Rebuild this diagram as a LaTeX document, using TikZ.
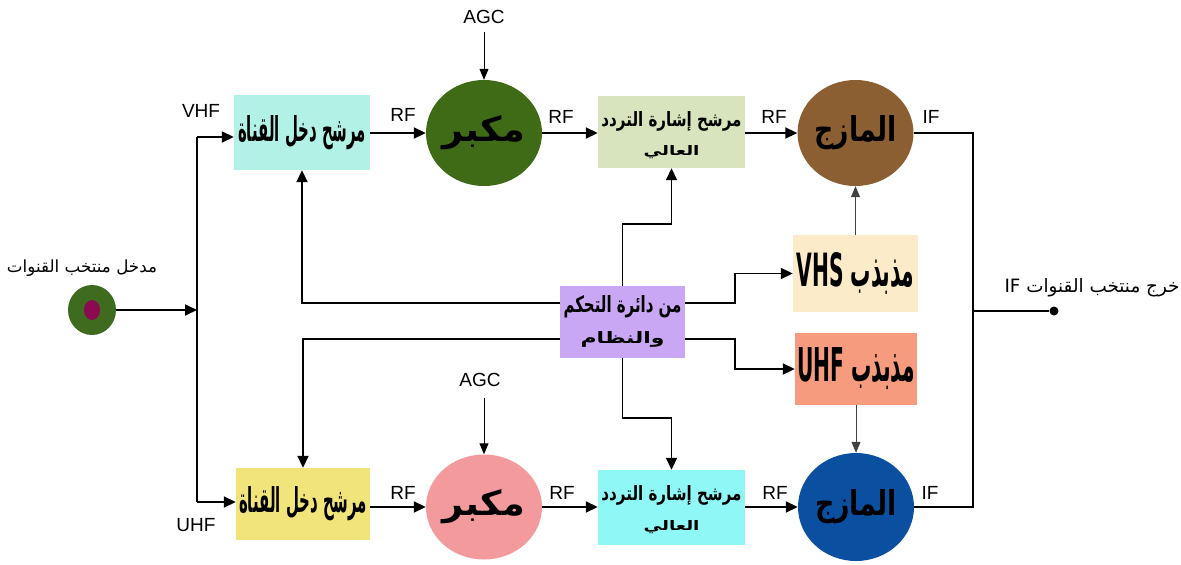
\documentclass[tikz,border=0pt]{standalone}
\usepackage{fontspec}
\setmainfont{Liberation Sans}
\newfontfamily\arabicfont[Script=Arabic]{DejaVu Sans}
\TeXXeTstate=1
\usetikzlibrary{arrows.meta,shapes.geometric,calc}

\definecolor{inGreen}{HTML}{3E6B1D}
\definecolor{inDot}{HTML}{8B0A50}
\definecolor{cfTop}{HTML}{B2F2E6}
\definecolor{ampTop}{HTML}{3F6A16}
\definecolor{hfTop}{HTML}{D7E4BD}
\definecolor{mixTop}{HTML}{8C5F33}
\definecolor{vhsCol}{HTML}{FBEBC9}
\definecolor{uhfCol}{HTML}{F79B7F}
\definecolor{ctrlCol}{HTML}{C9A7F4}
\definecolor{cfBot}{HTML}{F0E47A}
\definecolor{ampBot}{HTML}{F29A9C}
\definecolor{hfBot}{HTML}{8FF7F5}
\definecolor{mixBot}{HTML}{0B4FA1}

% bold Arabic text squeezed into a given width and height
\newcommand{\fitar}[3]{\resizebox{#1}{#2}{\arabicfont\bfseries #3}}
\newcommand{\fitplain}[2]{\resizebox{#1}{!}{\arabicfont #2}}

\tikzset{
  blk/.style={rectangle, draw=none, inner sep=0pt, align=center},
  oval/.style={ellipse, draw=none, inner sep=0pt},
  wire/.style={line width=1.8pt, draw=black},
  arr/.style={wire, -{Triangle[length=12pt,width=11pt]}},
  thin arr/.style={line width=1pt, draw=black!75, -{Triangle[length=11pt,width=9pt]}},
  lbl/.style={font=\fontsize{19}{19}\selectfont, inner sep=0pt}
}

\begin{document}
\begin{tikzpicture}[x=1pt,y=-1pt]
\useasboundingbox (0,0) rectangle (1181,565);

% input connector
\node[oval, fill=inGreen, minimum width=48pt, minimum height=50pt] (in) at (92,310) {};
\node[oval, fill=inDot, minimum width=16pt, minimum height=20pt] (indot) at (92,310) {};
\node[inner sep=0pt] (inlbl) at (82,268) {\fitplain{150pt}{\beginR مدخل منتخب القنوات\endR}};

% upper (VHF) chain
\node[blk, fill=cfTop, minimum width=136pt, minimum height=75pt] (cf1) at (302,132.5) {\fitar{128pt}{26pt}{\beginR مرشح دخل القناة\endR}};
\node[oval, fill=ampTop, minimum width=86pt, minimum height=106pt] (amp1) at (484,133) {\fitar{82pt}{26pt}{\beginR مكبر\endR}};
\node[blk, fill=hfTop, minimum width=147pt, minimum height=72pt] (hf1) at (671.5,132) {};
\node (hf1a) at (671.5,121) {\fitar{140pt}{15pt}{\beginR مرشح إشارة التردد\endR}};
\node (hf1b) at (671.5,152) {\fitar{56pt}{10pt}{\beginR العالي\endR}};
\node[oval, fill=mixTop, minimum width=95pt, minimum height=106pt] (mix1) at (855.5,133) {\fitar{82pt}{26pt}{\beginR المازج\endR}};

% local oscillators
\node[blk, fill=vhsCol, minimum width=125pt, minimum height=77pt] (vhs) at (855.5,273.5) {\fitar{118pt}{34pt}{\beginR مذبذب \beginL VHS\endL\endR}};
\node[blk, fill=uhfCol, minimum width=122pt, minimum height=72pt] (uhf) at (856,369) {\fitar{118pt}{34pt}{\beginR مذبذب \beginL UHF\endL\endR}};

% control
\node[blk, fill=ctrlCol, minimum width=125pt, minimum height=72pt] (ctrl) at (622.5,322) {};
\node (ctrla) at (622.5,307) {\fitar{118pt}{17pt}{\beginR من دائرة التحكم\endR}};
\node (ctrlb) at (622.5,339) {\fitar{84pt}{12pt}{\beginR والنظام\endR}};

% lower (UHF) chain
\node[blk, fill=cfBot, minimum width=134pt, minimum height=72pt] (cf2) at (303,504) {\fitar{128pt}{26pt}{\beginR مرشح دخل القناة\endR}};
\node[oval, fill=ampBot, minimum width=87pt, minimum height=105pt] (amp2) at (484,507) {\fitar{82pt}{26pt}{\beginR مكبر\endR}};
\node[blk, fill=hfBot, minimum width=147pt, minimum height=75pt] (hf2) at (671.5,507.5) {};
\node (hf2a) at (671.5,495) {\fitar{140pt}{15pt}{\beginR مرشح إشارة التردد\endR}};
\node (hf2b) at (671.5,527) {\fitar{56pt}{10pt}{\beginR العالي\endR}};
\node[oval, fill=mixBot, minimum width=95pt, minimum height=108pt] (mix2) at (856,507) {\fitar{82pt}{26pt}{\beginR المازج\endR}};

% input bus
\coordinate (busm) at (197,310);
\coordinate (bust) at (197,137);
\coordinate (busb) at (197,502);
\draw[arr] (in.east) -- (busm);
\draw[wire] (bust) -- (busb);
\draw[arr] (bust) -- (bust -| cf1.west);
\draw[arr] (busb) -- (busb -| cf2.west);
\node[lbl] (vhflbl) at (201,111) {VHF};
\node[lbl] (uhflbl) at (196,525) {UHF};

% signal path, upper
\draw[arr] (amp1.west -| cf1.east) -- (amp1.west);
\draw[arr] (amp1.east) -- (amp1.east -| hf1.west);
\draw[arr] (mix1.west -| hf1.east) -- (mix1.west);
\node[lbl] (rf1) at (403,115) {RF};
\node[lbl] (rf2) at (561,117) {RF};
\node[lbl] (rf3) at (774,117) {RF};
\node[lbl] (if1) at (931,117) {IF};

% signal path, lower
\draw[arr] (amp2.west -| cf2.east) -- (amp2.west);
\draw[arr] (amp2.east) -- (amp2.east -| hf2.west);
\draw[arr] (mix2.west -| hf2.east) -- (mix2.west);
\node[lbl] (rf4) at (403,493) {RF};
\node[lbl] (rf5) at (562,493) {RF};
\node[lbl] (rf6) at (775,493) {RF};
\node[lbl] (if2) at (930,493) {IF};

% AGC inputs
\node[lbl] (agc1) at (484,17) {AGC};
\node[lbl] (agc2) at (480,380) {AGC};
\coordinate (agc1s) at (484,32);
\coordinate (agc2s) at (484,398);
\draw[thin arr, draw=black] (agc1s) -- (amp1.north);
\draw[thin arr, draw=black] (agc2s) -- (amp2.north);

% oscillators to mixers
\draw[thin arr] (vhs.north) -- (mix1.south);
\draw[thin arr] (uhf.south) -- (mix2.north);

% IF output
\coordinate (ifbus) at (973,311);
\node[circle, fill=black, inner sep=0pt, minimum size=9pt] (out) at (1054,311) {};
\draw[wire] (mix1.east) -| (ifbus) |- (mix2.east);
\draw[wire] (ifbus) -- (out);
\node[inner sep=0pt] (outlbl) at (1092,288) {\resizebox{175pt}{!}{\arabicfont\beginR خرج منتخب القنوات \beginL IF\endL\endR}};

% control lines
\draw[arr] ([yshift=-17pt]ctrl.north west) -| (cf1.south);
\draw[arr] ([yshift=19pt]ctrl.south west) -| (cf2.north);
\draw[arr] (ctrl.north) -- ++(0,-62) -| (hf1.south);
\draw[arr] (ctrl.south) -- ++(0,60) -| (hf2.north);
\draw[arr] ([yshift=-17pt]ctrl.north east) -- ++(50,0) |- (vhs.west);
\draw[arr] ([yshift=19pt]ctrl.south east) -- ++(50,0) |- (uhf.west);
\end{tikzpicture}
\end{document}
